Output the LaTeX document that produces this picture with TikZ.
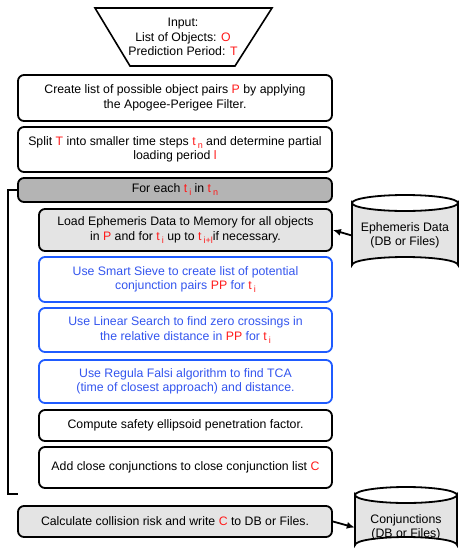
\documentclass[tikz,border=0pt]{standalone}
\usepackage{fontspec}
\setmainfont{Liberation Sans}
\usetikzlibrary{arrows.meta}
\definecolor{myred}{HTML}{FF1A1A}
\definecolor{myblue}{HTML}{1F5BFF}
\definecolor{mybluetext}{HTML}{3355EE}
\definecolor{darkgray}{HTML}{B4B4B4}
\definecolor{lightgray}{HTML}{E4E4E4}
\newcommand{\rd}[1]{\textcolor{myred}{#1}}
\newcommand{\rsub}[1]{\raisebox{-3pt}{\textcolor{myred}{\fontsize{9}{9}\selectfont #1}}}
\begin{document}
\begin{tikzpicture}[x=1pt,y=-1pt,
  every node/.style={font=\fontsize{12.3}{14.5}\selectfont},
  box/.style={draw, rounded corners=6pt, line width=1.8pt, align=center, inner sep=0pt, minimum width=314pt},
  inbox/.style={box, minimum width=293pt},
  bluebox/.style={inbox, draw=myblue, text=mybluetext},
  cyl/.style={draw, line width=1.8pt, fill=lightgray},
  conn/.style={line width=1.8pt},
  arr/.style={conn, -{Latex[length=8pt,width=7pt]}}
]
\useasboundingbox (0,0) rectangle (460,555);
% input trapezoid
\draw[line width=1.6pt, fill=white] (95,8) -- (272,8) -- (235,66) -- (130,66) -- cycle;
\node[align=center] (input) at (183,37) {Input:\\List of Objects: \rd{O}\\Prediction Period: \rd{T}};
% main boxes
\node[box, minimum height=46pt] (b1) at (175,98) {Create list of possible object pairs \rd{P} by applying\\the Apogee-Perigee Filter.};
\node[box, minimum height=45pt] (b2) at (175,149.5) {Split \rd{T} into smaller time steps \rd{t}\,\rsub{n} and determine partial\\loading period \rd{l}};
\node[box, minimum height=24pt, fill=darkgray] (each) at (175,190) {For each \rd{t}\,\rsub{i} in \rd{t}\,\rsub{n}};
\node[inbox, minimum height=42pt, fill=lightgray] (load) at (185.5,230) {Load Ephemeris Data to Memory for all objects\\in \rd{P} and for \rd{t}\,\rsub{i} up to \rd{t}\,\rsub{i+l}if necessary.};
\node[bluebox, minimum height=45pt] (sieve) at (185.5,279.5) {Use Smart Sieve to create list of potential\\conjunction pairs \rd{PP} for \rd{t}\,\rsub{i}};
\node[bluebox, minimum height=44pt] (lin) at (185.5,330) {Use Linear Search to find zero crossings in\\the relative distance in \rd{PP} for \rd{t}\,\rsub{i}};
\node[bluebox, minimum height=43pt] (reg) at (185.5,381.5) {Use Regula Falsi algorithm to find TCA\\(time of closest approach) and distance.};
\node[inbox, minimum height=31pt] (comp) at (185.5,425.5) {Compute safety ellipsoid penetration factor.};
\node[inbox, minimum height=41pt] (add) at (185.5,467.5) {Add close conjunctions to close conjunction list \rd{C}};
\node[box, minimum height=31pt, fill=lightgray] (calc) at (175,521.5) {Calculate collision risk and write \rd{C} to DB or Files.};
% loop bracket
\coordinate (lb) at (8,494);
\coordinate (le) at (18,494);
\draw[conn] (each.west) -- (8,190) -- (lb) -- (le);
% ephemeris cylinder
\draw[cyl] (352,203) -- (352,265) arc[start angle=180, end angle=360, x radius=53, y radius=8] -- (458,203) arc[start angle=0, end angle=180, x radius=53, y radius=8] -- cycle;
\draw[line width=1.8pt] (352,203) arc[start angle=180, end angle=360, x radius=53, y radius=8];
\node[align=center, inner sep=0pt, minimum width=106pt] (eph) at (405,235.5) {Ephemeris Data\\(DB or Files)};
\draw[arr] (eph.west) -- (load.east);
% conjunction cylinder
\draw[cyl] (355,495) -- (355,545) arc[start angle=180, end angle=360, x radius=51, y radius=8] -- (457,495) arc[start angle=0, end angle=180, x radius=51, y radius=8] -- cycle;
\draw[line width=1.8pt] (355,495) arc[start angle=180, end angle=360, x radius=51, y radius=8];
\node[align=center, inner sep=0pt, minimum width=102pt] (conj) at (406,527.5) {Conjunctions\\(DB or Files)};
\draw[arr] (calc.east) -- (conj.west);
\end{tikzpicture}
\end{document}
